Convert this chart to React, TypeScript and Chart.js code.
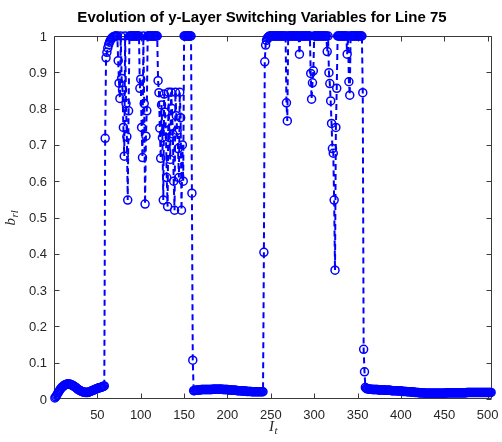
import React, { useEffect, useRef } from "react";
import { Chart, registerables } from "chart.js";

Chart.register(...registerables);

const titleText = "Evolution of y-Layer Switching Variables for Line 75";
const xTicks = [50, 100, 150, 200, 250, 300, 350, 400, 450, 500];
const yTicks = [0, 0.1, 0.2, 0.3, 0.4, 0.5, 0.6, 0.7, 0.8, 0.9, 1];
const yTickLabels = ["0", "0.1", "0.2", "0.3", "0.4", "0.5", "0.6", "0.7", "0.8", "0.9", "1"];
const xMin = 0;
const xMax = 505;

// b_rl value for I_t = 1, 2, 3, ...
const bValues = [
  0.003, 0.006, 0.010, 0.014, 0.018, 0.022, 0.026, 0.029, 0.032, 0.034,
  0.036, 0.038, 0.039, 0.040, 0.041, 0.041, 0.041, 0.041, 0.040, 0.039,
  0.038, 0.037, 0.035, 0.034, 0.032, 0.030, 0.028, 0.026, 0.025, 0.023,
  0.022, 0.021, 0.020, 0.019, 0.019, 0.018, 0.018, 0.018, 0.018, 0.019,
  0.020, 0.021, 0.022, 0.023, 0.024, 0.025, 0.026, 0.027, 0.028, 0.029,
  0.030, 0.031, 0.031, 0.032, 0.033, 0.034, 0.035, 0.036, 0.718, 0.940,
  0.955, 0.967, 0.976, 0.983, 0.988, 0.992, 0.995, 0.997, 0.998, 0.999,
  1, 1, 1, 0.932, 0.870, 0.828, 1, 0.883, 0.851, 0.748,
  0.669, 1, 0.814, 0.723, 0.548, 0.794, 1, 1, 1, 1,
  1, 1, 1, 1, 1, 1, 1, 1, 0.856, 0.881,
  0.748, 0.665, 1, 0.814, 0.537, 0.724, 0.794, 1, 1, 1,
  1, 1, 1, 1, 1, 1, 1, 1, 1, 0.877,
  0.844, 0.746, 0.663, 0.810, 0.720, 0.548, 0.840, 0.790, 0.740, 0.610,
  0.530, 0.845, 0.720, 0.660, 0.845, 0.800, 0.730, 0.600, 0.520, 0.845,
  0.780, 0.740, 0.690, 0.610, 0.845, 0.775, 0.520, 0.700, 0.600, 1,
  1, 1, 1, 1, 1, 1, 1, 1, 0.567, 0.107,
  0.023, 0.023, 0.024, 0.024, 0.024, 0.025, 0.025, 0.025, 0.025, 0.026,
  0.026, 0.026, 0.026, 0.026, 0.026, 0.026, 0.026, 0.026, 0.026, 0.026,
  0.026, 0.026, 0.027, 0.027, 0.027, 0.027, 0.027, 0.027, 0.027, 0.027,
  0.027, 0.027, 0.027, 0.027, 0.026, 0.026, 0.026, 0.026, 0.026, 0.026,
  0.025, 0.025, 0.025, 0.025, 0.025, 0.024, 0.024, 0.024, 0.024, 0.024,
  0.023, 0.023, 0.023, 0.023, 0.023, 0.022, 0.022, 0.022, 0.022, 0.022,
  0.022, 0.021, 0.021, 0.021, 0.021, 0.021, 0.021, 0.020, 0.020, 0.020,
  0.020, 0.020, 0.020, 0.020, 0.020, 0.020, 0.020, 0.020, 0.020, 0.020,
  0.020, 0.404, 0.929, 0.975, 0.988, 0.994, 0.997, 0.999, 1, 1,
  1, 1, 1, 1, 1, 1, 1, 1, 1, 1,
  1, 1, 1, 1, 1, 1, 1, 0.816, 0.766, 1,
  1, 1, 1, 1, 1, 1, 1, 1, 1, 1,
  1, 1, 0.950, 1, 1, 1, 1, 1, 1, 1,
  1, 1, 1, 1, 1, 0.897, 0.826, 0.871, 0.904, 1,
  1, 1, 1, 1, 1, 1, 1, 1, 1, 1,
  1, 1, 1, 1, 0.957, 1, 0.899, 0.869, 0.821, 0.759,
  0.690, 0.677, 0.548, 0.355, 0.748, 0.856, 1, 1, 1, 1,
  1, 1, 1, 1, 1, 1, 1, 0.950, 1, 0.874,
  0.837, 1, 1, 1, 1, 1, 1, 1, 1, 1,
  1, 1, 1, 1, 1, 0.844, 0.137, 0.075, 0.032, 0.029,
  0.028, 0.028, 0.027, 0.027, 0.027, 0.027, 0.026, 0.026, 0.026, 0.026,
  0.026, 0.026, 0.026, 0.025, 0.025, 0.025, 0.025, 0.025, 0.025, 0.025,
  0.025, 0.024, 0.024, 0.024, 0.024, 0.024, 0.024, 0.024, 0.023, 0.023,
  0.023, 0.023, 0.023, 0.023, 0.023, 0.022, 0.022, 0.022, 0.022, 0.022,
  0.022, 0.021, 0.021, 0.021, 0.021, 0.021, 0.020, 0.020, 0.020, 0.020,
  0.020, 0.019, 0.019, 0.019, 0.019, 0.018, 0.018, 0.018, 0.018, 0.018,
  0.017, 0.017, 0.017, 0.017, 0.017, 0.017, 0.016, 0.016, 0.016, 0.016,
  0.016, 0.016, 0.016, 0.016, 0.016, 0.016, 0.016, 0.016, 0.016, 0.016,
  0.016, 0.016, 0.016, 0.016, 0.016, 0.016, 0.016, 0.016, 0.016, 0.016,
  0.016, 0.016, 0.017, 0.017, 0.017, 0.017, 0.017, 0.017, 0.017, 0.017,
  0.017, 0.017, 0.017, 0.017, 0.017, 0.017, 0.017, 0.017, 0.017, 0.017,
  0.017, 0.017, 0.017, 0.017, 0.017, 0.018, 0.018, 0.018, 0.018, 0.018,
  0.018, 0.018, 0.018, 0.018, 0.018, 0.018, 0.018, 0.018, 0.018, 0.018,
  0.018, 0.018, 0.018, 0.018, 0.018, 0.018, 0.018, 0.018, 0.018, 0.018,
  0.018, 0.018, 0.018, 0.018,
];
const tValues = bValues.map((_, i) => i + 1);

const W = 502;
const H = 442;
const AXIS_COLOR = "#3a3a3a";
const TEXT_COLOR = "#262626";
const SANS = "'Liberation Sans', Arial, Helvetica, sans-serif";
const SERIF = "'Liberation Serif', 'Times New Roman', serif";

const matlabAxes = {
  id: "matlabAxes",
  beforeDatasetsDraw(chart: any) {
    const { ctx, chartArea: a, scales } = chart;
    const x = scales.x;
    const y = scales.y;
    ctx.save();
    ctx.strokeStyle = AXIS_COLOR;
    ctx.lineWidth = 1;
    const L = Math.round(a.left) + 0.5;
    const R = Math.round(a.right) - 0.5;
    const T = Math.round(a.top) + 0.5;
    const B = Math.round(a.bottom) - 0.5;
    ctx.beginPath();
    ctx.rect(L, T, R - L, B - T);
    ctx.stroke();
    const tl = 5;
    ctx.beginPath();
    xTicks.forEach((v) => {
      const px = Math.round(x.getPixelForValue(v)) + 0.5;
      ctx.moveTo(px, B);
      ctx.lineTo(px, B - tl);
      ctx.moveTo(px, T);
      ctx.lineTo(px, T + tl);
    });
    yTicks.forEach((v) => {
      const py = Math.round(y.getPixelForValue(v)) + 0.5;
      ctx.moveTo(L, py);
      ctx.lineTo(L + tl, py);
      ctx.moveTo(R, py);
      ctx.lineTo(R - tl, py);
    });
    ctx.stroke();
    ctx.restore();
  },
  afterDraw(chart: any) {
    const { ctx, chartArea: a, scales } = chart;
    const x = scales.x;
    const y = scales.y;
    ctx.save();
    ctx.fillStyle = TEXT_COLOR;
    ctx.font = `13px ${SANS}`;
    ctx.textAlign = "center";
    ctx.textBaseline = "middle";
    xTicks.forEach((v) => {
      ctx.fillText(String(v), x.getPixelForValue(v), a.bottom + 16);
    });
    ctx.textAlign = "right";
    yTicks.forEach((v, i) => {
      ctx.fillText(yTickLabels[i], a.left - 7, y.getPixelForValue(v) + 1);
    });

    // title
    ctx.fillStyle = "#000";
    ctx.font = `bold 15px ${SANS}`;
    ctx.textAlign = "center";
    ctx.textBaseline = "alphabetic";
    ctx.fillText(titleText, 262, 22);

    // x label  I_t
    ctx.fillStyle = TEXT_COLOR;
    const mainFont = `italic 15px ${SERIF}`;
    const subFont = `italic 11px ${SERIF}`;
    ctx.font = mainFont;
    const wI = ctx.measureText("I").width;
    ctx.font = subFont;
    const wt = ctx.measureText("t").width;
    const xl = 273 - (wI + wt) / 2;
    ctx.textAlign = "left";
    ctx.font = mainFont;
    ctx.fillText("I", xl, 431);
    ctx.font = subFont;
    ctx.fillText("t", xl + wI + 0.5, 434);

    // y label  b_rl
    ctx.save();
    ctx.translate(15, 218);
    ctx.rotate(-Math.PI / 2);
    ctx.font = mainFont;
    const wb = ctx.measureText("b").width;
    ctx.font = subFont;
    const wrl = ctx.measureText("rl").width;
    const yl = -(wb + wrl) / 2;
    ctx.font = mainFont;
    ctx.fillText("b", yl, 0);
    ctx.font = subFont;
    ctx.fillText("rl", yl + wb + 0.5, 3);
    ctx.restore();

    ctx.restore();
  },
};

export default function App() {
  const canvasRef = useRef<HTMLCanvasElement | null>(null);

  useEffect(() => {
    const canvas = canvasRef.current;
    if (!canvas) return;
    const chart = new Chart(canvas, {
      type: "line",
      data: {
        datasets: [
          {
            data: tValues.map((t, i) => ({ x: t, y: bValues[i] })),
            borderColor: "#0000ff",
            borderWidth: 2,
            borderDash: [6, 4],
            pointRadius: 4,
            pointBorderWidth: 1.5,
            pointBorderColor: "#0000ff",
            pointBackgroundColor: "rgba(0,0,0,0)",
            pointStyle: "circle",
            tension: 0,
            fill: false,
            clip: false as any,
          },
        ],
      },
      options: {
        responsive: false,
        animation: false,
        devicePixelRatio: 1,
        layout: { padding: { left: 54, right: 10, top: 36, bottom: 43 } },
        plugins: {
          legend: { display: false },
          title: { display: false },
          tooltip: { enabled: false },
        },
        events: [],
        scales: {
          x: { type: "linear", min: xMin, max: xMax, display: false },
          y: { type: "linear", min: 0, max: 1, display: false },
        },
      },
      plugins: [matlabAxes],
    });
    return () => chart.destroy();
  }, []);

  return (
    <div style={{ position: "fixed", left: 0, top: 0, width: W, height: H, background: "#fff" }}>
      <canvas ref={canvasRef} width={W} height={H} style={{ display: "block", width: W, height: H }} />
    </div>
  );
}
